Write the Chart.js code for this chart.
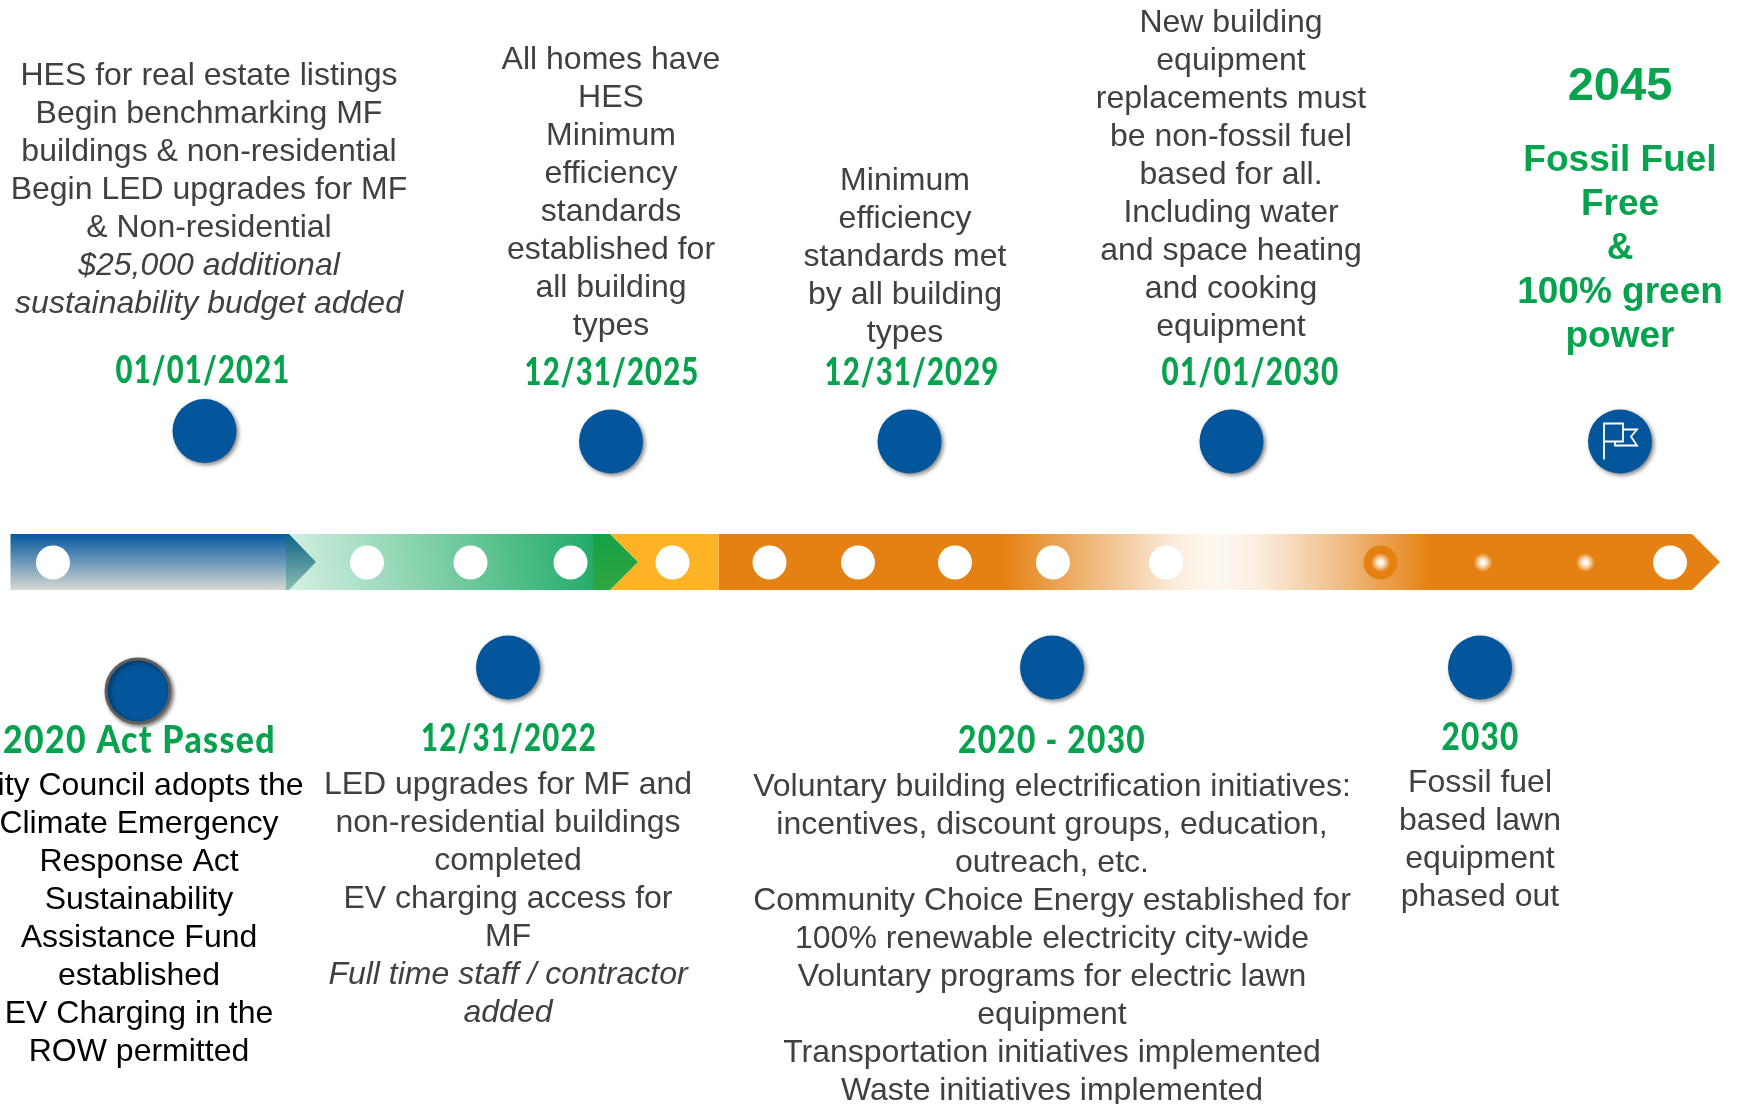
<!DOCTYPE html>
<html>
<head>
<meta charset="utf-8">
<title>Timeline</title>
<script src="https://cdn.jsdelivr.net/npm/chart.js@4"></script>
<style>
  html, body { margin: 0; padding: 0; background: #fff; overflow: hidden; }
  canvas { display: block; }
</style>
</head>
<body>
<canvas id="timeline" width="1743" height="1104"></canvas>
<script>
// marks on the timeline
var trackDotX = [53, 367, 470.5, 570.5, 672.5, 769.5, 858, 955, 1053, 1166, 1670];
var ringDotX = [1380.5];
var glowDotX = [1380.5, 1483, 1585.5];
var trackY = 562.5;

var topMilestoneX = [204.5, 611, 909.5, 1231.5, 1620];
var topMilestoneY = [431, 441.5, 441.5, 441.5, 441.5];
var bottomMilestoneX = [508, 1052, 1480];
var bottomMilestoneY = [667.5, 667.5, 667.5];
var actPassedX = [138];
var actPassedY = [691];

// band edges
var bandTop = 534;
var bandBottom = 590;
var bandStart = 10.5;
var blueEnd = 289;
var blueTip = 316;
var greenEnd = 610;
var greenOverlap = 593;
var greenTip = 638;
var yellowEnd = 718.5;
var headStart = 1692;
var headTip = 1720;
var fadeFrom = 1003;
var fadeMid = 1218;
var fadeTo = 1432;

// dates
var dateLabels = ['01/01/2021', '12/31/2025', '12/31/2029', '01/01/2030', '2020 Act Passed', '12/31/2022', '2020 - 2030', '2030'];
var dateX = [203, 612, 912, 1250.5, 139.5, 509, 1052, 1480.5];
var dateY = [371, 373, 373, 373, 741, 739, 741, 738];
var dateWidth = [175, 175, 175, 178, 273, 176, 188, 78];

// text blocks
var listingLines = ['HES for real estate listings', 'Begin benchmarking MF', 'buildings & non-residential', 'Begin LED upgrades for MF', '& Non-residential', '$25,000 additional', 'sustainability budget added'];
var homesLines = ['All homes have', 'HES', 'Minimum', 'efficiency', 'standards', 'established for', 'all building', 'types'];
var standardsLines = ['Minimum', 'efficiency', 'standards met', 'by all building', 'types'];
var newBuildingLines = ['New building', 'equipment', 'replacements must', 'be non-fossil fuel', 'based for all.', 'Including water', 'and space heating', 'and cooking', 'equipment'];
var councilLines = ['City Council adopts the', 'Climate Emergency', 'Response Act', 'Sustainability', 'Assistance Fund', 'established', 'EV Charging in the', 'ROW permitted'];
var upgradeLines = ['LED upgrades for MF and', 'non-residential buildings', 'completed', 'EV charging access for', 'MF', 'Full time staff / contractor', 'added'];
var voluntaryLines = ['Voluntary building electrification initiatives:', 'incentives, discount groups, education,', 'outreach, etc.', 'Community Choice Energy established for', '100% renewable electricity city-wide', 'Voluntary programs for electric lawn', 'equipment', 'Transportation initiatives implemented', 'Waste initiatives implemented'];
var lawnLines = ['Fossil fuel', 'based lawn', 'equipment', 'phased out'];
var goalLines = ['Fossil Fuel', 'Free', '&', '100% green', 'power'];

var blockLines = [listingLines, homesLines, standardsLines, newBuildingLines, councilLines, upgradeLines, voluntaryLines, lawnLines];
var blockX = [209, 611, 905, 1231, 139, 508, 1052, 1480];
var blockY = [76, 60, 181, 23, 786, 785, 787, 783];
var blockItalicFrom = [5, 99, 99, 99, 99, 5, 99, 99];
var blockColor = ['#404040', '#404040', '#404040', '#404040', '#000000', '#404040', '#404040', '#404040'];

function points(xs, ys) {
  return xs.map(function(x, i) {
    return { x: x, y: Array.isArray(ys) ? ys[i] : ys };
  });
}

var bandPlugin = {
  id: 'band',
  beforeDatasetsDraw: function(chart) {
    var c = chart.ctx;
    var sx = chart.scales.x;
    var sy = chart.scales.y;
    var top = sy.getPixelForValue(bandTop);
    var bot = sy.getPixelForValue(bandBottom);
    var mid = (top + bot) / 2;

    function poly(pts, fill) {
      c.beginPath();
      pts.forEach(function(p, i) {
        var px = sx.getPixelForValue(p[0]);
        if (i === 0) c.moveTo(px, p[1]); else c.lineTo(px, p[1]);
      });
      c.closePath();
      c.fillStyle = fill;
      c.fill();
    }
    function hGrad(stops) {
      var g = c.createLinearGradient(sx.getPixelForValue(stops[0][0]), 0, sx.getPixelForValue(stops[stops.length - 1][0]), 0);
      var span = stops[stops.length - 1][0] - stops[0][0];
      stops.forEach(function(s) { g.addColorStop((s[0] - stops[0][0]) / span, s[1]); });
      return g;
    }

    c.save();
    // orange runs under the rest
    poly([[yellowEnd, top], [headStart, top], [headTip, mid], [headStart, bot], [yellowEnd, bot]],
      hGrad([[yellowEnd, '#e48112'], [fadeFrom, '#e48112'], [1100, '#f0bd85'], [fadeMid - 40, '#fbeee0'], [fadeMid, '#fdf8f2'], [fadeMid + 40, '#fbeee0'], [1340, '#f0bd85'], [fadeTo, '#e48112'], [headStart, '#e48112']]));

    // yellow
    poly([[greenEnd, top], [yellowEnd, top], [yellowEnd, bot], [greenEnd, bot], [greenTip, mid]], '#fdb323');

    // green, gradient runs corner to corner
    var gg = c.createLinearGradient(sx.getPixelForValue(blueEnd), bot, sx.getPixelForValue(greenEnd), top);
    gg.addColorStop(0, '#d6f0e3');
    gg.addColorStop(1, '#17a760');
    poly([[blueEnd, top], [greenOverlap, top], [greenOverlap, bot], [blueEnd, bot], [blueTip, mid]], gg);

    // blue
    var bg = c.createLinearGradient(0, top, 0, bot);
    bg.addColorStop(0, '#04589f');
    bg.addColorStop(1, '#d6d9d2');
    poly([[bandStart, top], [blueEnd - 3, top], [blueEnd - 3, bot], [bandStart, bot]], bg);

    // arrow overlaps
    var tg = c.createLinearGradient(0, top, 0, bot);
    tg.addColorStop(0, '#0b6486');
    tg.addColorStop(1, '#8dbcb1');
    poly([[blueEnd - 3, top], [blueEnd, top], [blueTip, mid], [blueEnd, bot], [blueEnd - 3, bot]], tg);
    var dg = c.createLinearGradient(0, top, 0, bot);
    dg.addColorStop(0, '#14a246');
    dg.addColorStop(1, '#31a540');
    poly([[greenOverlap, top], [greenEnd, top], [greenTip, mid], [greenEnd, bot], [greenOverlap, bot]], dg);
    c.restore();
  },
  // shadow for the big milestone circles only
  beforeDatasetDraw: function(chart, args) {
    if (chart.data.datasets[args.index].shadow) {
      var c = chart.ctx;
      c.save();
      c.shadowColor = 'rgba(0,0,0,0.5)';
      c.shadowBlur = 4;
      c.shadowOffsetX = 2;
      c.shadowOffsetY = 2;
    }
  },
  afterDatasetDraw: function(chart, args) {
    if (chart.data.datasets[args.index].shadow) chart.ctx.restore();
  }
};

var labelPlugin = {
  id: 'labels',
  afterDatasetsDraw: function(chart) {
    var c = chart.ctx;
    var sx = chart.scales.x;
    var sy = chart.scales.y;
    c.save();
    c.textAlign = 'center';
    c.textBaseline = 'middle';

    blockLines.forEach(function(lines, b) {
      lines.forEach(function(line, i) {
        c.font = (i >= blockItalicFrom[b] ? 'italic ' : '') + '32px "Liberation Sans"';
        c.fillStyle = blockColor[b];
        c.fillText(line, sx.getPixelForValue(blockX[b]), sy.getPixelForValue(blockY[b] + i * 38));
      });
    });

    c.fillStyle = '#07a24e';
    c.letterSpacing = '1.5px';
    c.font = '900 37px Lato';
    dateLabels.forEach(function(label, i) {
      // the original face is narrower than Lato, squeeze to its width
      c.fillText(label, sx.getPixelForValue(dateX[i]), sy.getPixelForValue(dateY[i]), dateWidth[i]);
    });
    c.letterSpacing = '0px';

    c.font = 'bold 47px "Liberation Sans"';
    c.fillText('2045', sx.getPixelForValue(1620), sy.getPixelForValue(87));
    c.font = 'bold 37px "Liberation Sans"';
    goalLines.forEach(function(line, i) {
      c.fillText(line, sx.getPixelForValue(1620), sy.getPixelForValue(161 + i * 44));
    });

    // flag in the last circle
    var fx = sx.getPixelForValue(topMilestoneX[4]);
    var fy = sy.getPixelForValue(topMilestoneY[4]);
    c.strokeStyle = '#ffffff';
    c.lineWidth = 1.8;
    c.lineJoin = 'miter';
    c.beginPath();
    c.moveTo(fx - 16, fy + 18);
    c.lineTo(fx - 16, fy - 18);
    c.lineTo(fx + 3, fy - 18);
    c.lineTo(fx + 3, fy);
    c.lineTo(fx - 16, fy);
    c.moveTo(fx + 3, fy - 12);
    c.lineTo(fx + 17, fy - 12);
    c.lineTo(fx + 11, fy - 5);
    c.lineTo(fx + 17, fy + 4);
    c.lineTo(fx - 5, fy + 4);
    c.lineTo(fx - 5, fy);
    c.stroke();
    c.restore();
  }
};

function glowFill(ctx) {
  if (!ctx.parsed) return '#e48112';
  var px = ctx.chart.scales.x.getPixelForValue(ctx.parsed.x);
  var py = ctx.chart.scales.y.getPixelForValue(ctx.parsed.y);
  // scales have no size on the very first pass
  if (!isFinite(px) || !isFinite(py)) return '#e48112';
  var g = ctx.chart.ctx.createRadialGradient(px, py, 0, px, py, 9.5);
  g.addColorStop(0, '#ffffff');
  g.addColorStop(0.3, '#fdeedd');
  g.addColorStop(1, '#e48112');
  return g;
}

var chart = new Chart(document.getElementById('timeline'), {
  type: 'scatter',
  data: {
    datasets: [
      { data: points(trackDotX, trackY), pointRadius: 17, pointBackgroundColor: '#ffffff', pointBorderWidth: 0 },
      { data: points(glowDotX, trackY), pointRadius: 9.5, pointBackgroundColor: glowFill, pointBorderWidth: 0 },
      { data: points(ringDotX, trackY), pointRadius: 17, pointBackgroundColor: '#e48112', pointBorderWidth: 0 },
      { data: points(topMilestoneX, topMilestoneY), pointRadius: 32, pointBackgroundColor: '#03569c', pointBorderWidth: 0, shadow: true },
      { data: points(bottomMilestoneX, bottomMilestoneY), pointRadius: 32, pointBackgroundColor: '#03569c', pointBorderWidth: 0, shadow: true },
      { data: points(actPassedX, actPassedY), pointRadius: 32, pointBackgroundColor: '#03569c', pointBorderColor: '#5f5f5f', pointBorderWidth: 3, shadow: true }
    ]
  },
  options: {
    responsive: false,
    animation: false,
    layout: { padding: 0, autoPadding: false },
    clip: false,
    plugins: { legend: { display: false }, tooltip: { enabled: false } },
    scales: {
      x: { type: 'linear', min: 0, max: 1743, display: false },
      y: { type: 'linear', min: 0, max: 1104, reverse: true, display: false }
    }
  },
  plugins: [bandPlugin, labelPlugin]
});
chart.update();
</script>
</body>
</html>
